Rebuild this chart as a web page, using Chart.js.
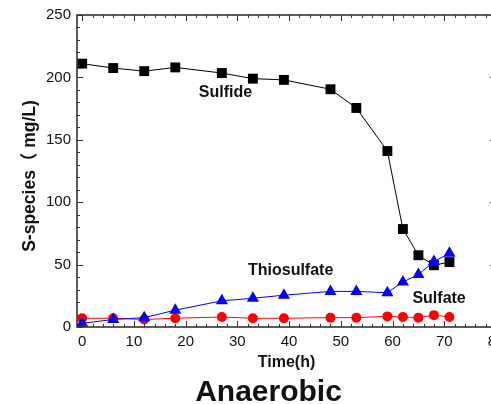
<!DOCTYPE html>
<html>
<head>
<meta charset="utf-8">
<script src="https://cdn.jsdelivr.net/npm/chart.js@4.4.1/dist/chart.umd.min.js"></script>
<style>
  html, body { margin: 0; padding: 0; background: #fff; overflow: hidden; }
  #wrap { width: 491px; height: 404px; overflow: hidden; position: relative; }
  #box { width: 520px; height: 404px; position: absolute; left: 0; top: 0; }
</style>
</head>
<body>
<div id="wrap"><div id="box"><canvas id="c"></canvas></div></div>
<script>
// Sampling times (h)
const timeH = [0, 6, 12, 18, 27, 33, 39, 48, 53, 59, 62, 65, 68, 71];
// Sulfur species concentrations (mg/L)
const sulfide     = [211, 207.5, 205, 208, 203.5, 199, 198, 190.5, 175.5, 141, 78.5, 57.5, 49.5, 52];
const thiosulfate = [3, 6, 7.5, 13.5, 21, 23, 25.5, 28.5, 28.5, 27.5, 36, 42, 52.5, 59];
const sulfate     = [7, 7, 6, 7, 8, 7, 7, 7.5, 7.5, 8.5, 8, 7.5, 9.5, 8];
// Axis tick labels
const xTicks = [0, 10, 20, 30, 40, 50, 60, 70, 80];
const yTicks = [0, 50, 100, 150, 200, 250];

const FONT = "'Liberation Sans', Arial, 'Noto Sans CJK SC', sans-serif";

const pts = ys => timeH.map((t, i) => ({ x: t, y: ys[i] }));

// Inward major/minor ticks on all four sides plus the frame
const frameTicks = {
  id: 'frameTicks',
  afterDraw(chart) {
    const { ctx, chartArea: a, scales: { x, y } } = chart;
    ctx.save();
    ctx.strokeStyle = '#333';
    ctx.lineWidth = 1;
    for (let v = 0; v <= 80; v += 2) {
      const px = Math.round(x.getPixelForValue(v)) + 0.5;
      const len = v % 10 === 0 ? 6 : 3;
      ctx.beginPath();
      ctx.moveTo(px, a.bottom); ctx.lineTo(px, a.bottom - len);
      ctx.moveTo(px, a.top); ctx.lineTo(px, a.top + len);
      ctx.stroke();
    }
    for (let v = 0; v <= 250; v += 10) {
      const py = Math.round(y.getPixelForValue(v)) + 0.5;
      const len = v % 50 === 0 ? 6 : 3;
      ctx.beginPath();
      ctx.moveTo(a.left, py); ctx.lineTo(a.left + len, py);
      ctx.moveTo(a.right, py); ctx.lineTo(a.right - len, py);
      ctx.stroke();
    }
    ctx.lineWidth = 1.6;
    ctx.strokeStyle = '#333';
    ctx.strokeRect(a.left, a.top, a.right - a.left, a.bottom - a.top);
    ctx.restore();
  }
};

// Series names written next to their curves, the y-axis title and the panel caption
const seriesNames = {
  id: 'seriesNames',
  afterDraw(chart) {
    const { ctx, scales: { x, y } } = chart;
    ctx.save();
    ctx.fillStyle = '#111';
    ctx.textAlign = 'center';
    ctx.textBaseline = 'middle';
    ctx.font = 'bold 16px ' + FONT;
    ctx.fillText('Sulfide', x.getPixelForValue(27.7), y.getPixelForValue(188));
    ctx.fillText('Thiosulfate', x.getPixelForValue(40.3), y.getPixelForValue(45));
    ctx.fillText('Sulfate', x.getPixelForValue(69), y.getPixelForValue(23));

    ctx.save();
    ctx.translate(30, 176);
    ctx.rotate(-Math.PI / 2);
    ctx.font = 'bold 17.5px ' + FONT;
    ctx.fillText('S-species（ mg/L)', 0, 0);
    ctx.restore();

    ctx.font = 'bold 30px ' + FONT;
    ctx.textBaseline = 'alphabetic';
    ctx.fillText('Anaerobic', 268.5, 401);
    ctx.restore();
  }
};

new Chart(document.getElementById('c'), {
  type: 'line',
  data: {
    datasets: [
      {
        label: 'Thiosulfate', data: pts(thiosulfate),
        borderColor: '#0000ff', backgroundColor: '#0000ff', borderWidth: 1,
        pointStyle: 'triangle', pointRadius: 7, pointBorderWidth: 0
      },
      {
        label: 'Sulfide', data: pts(sulfide),
        borderColor: '#000', backgroundColor: '#000', borderWidth: 1,
        pointStyle: 'rect', pointRadius: 7, pointBorderWidth: 0
      },
      {
        label: 'Sulfate', data: pts(sulfate),
        borderColor: '#ff0000', backgroundColor: '#ff0000', borderWidth: 1,
        pointStyle: 'circle', pointRadius: 5, pointBorderWidth: 0
      }
    ]
  },
  options: {
    responsive: true,
    maintainAspectRatio: false,
    animation: false,
    layout: { padding: { top: 15, right: 24, bottom: 0, left: 0 } },
    plugins: { legend: { display: false }, tooltip: { enabled: false } },
    scales: {
      x: {
        type: 'linear', min: -1, max: 80,
        grid: { display: false, drawTicks: false },
        border: { display: false },
        afterBuildTicks: s => { s.ticks = xTicks.map(v => ({ value: v })); },
        afterFit: s => { s.height = 77; },
        ticks: { padding: 6, color: '#111', font: { family: FONT, size: 15 }, maxRotation: 0, autoSkip: false },
        title: { display: true, text: 'Time(h)', color: '#111',
                 font: { family: FONT, size: 16, weight: 'bold' }, padding: { top: 0, bottom: 32 } }
      },
      y: {
        type: 'linear', min: 0, max: 250,
        grid: { display: false, drawTicks: false },
        border: { display: false },
        afterBuildTicks: s => { s.ticks = yTicks.map(v => ({ value: v })); },
        afterFit: s => { s.width = 77; },
        ticks: { padding: 6, color: '#111', font: { family: FONT, size: 15 }, autoSkip: false },
        title: { display: false }
      }
    }
  },
  plugins: [frameTicks, seriesNames]
});
</script>
</body>
</html>
